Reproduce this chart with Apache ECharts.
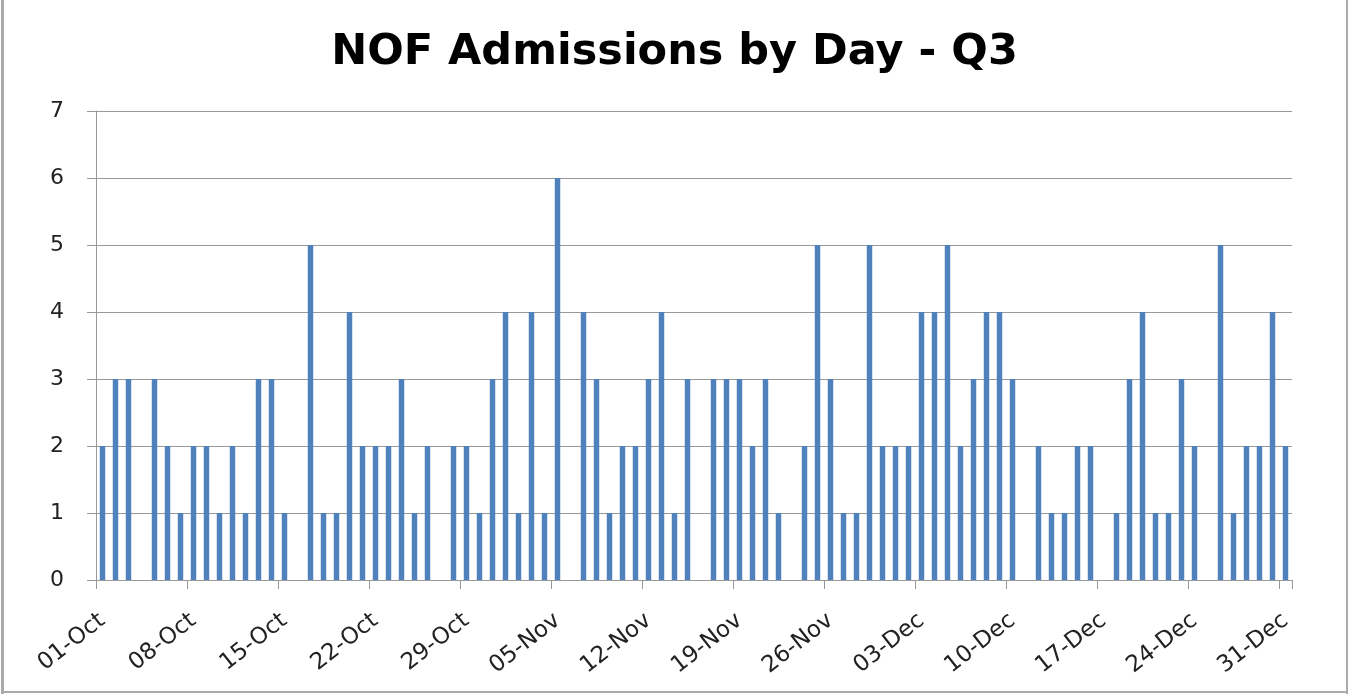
<!DOCTYPE html>
<html>
<head>
<meta charset="utf-8">
<title>NOF Admissions by Day - Q3</title>
<script src="https://cdn.jsdelivr.net/npm/echarts@6/dist/echarts.min.js"></script>
<style>
  html, body { margin: 0; padding: 0; background: #fff; }
  #chart { width: 1349px; height: 694px; }
</style>
</head>
<body>
<div id="chart"></div>
<script>
// dates 01-Oct .. 31-Dec
var months = ['Oct', 'Nov', 'Dec'];
var monthDays = [31, 30, 31];
var days = [];
for (var m = 0; m < months.length; m++) {
    for (var d = 1; d <= monthDays[m]; d++) {
        days.push((d < 10 ? '0' + d : '' + d) + '-' + months[m]);
    }
}

// admissions per day
var octAdmissions = [2, 3, 3, 0, 3, 2, 1, 2, 2, 1, 2, 1, 3, 3, 1, 0, 5, 1, 1, 4, 2, 2, 2, 3, 1, 2, 0, 2, 2, 1, 3];
var novAdmissions = [4, 1, 4, 1, 6, 0, 4, 3, 1, 2, 2, 3, 4, 1, 3, 0, 3, 3, 3, 2, 3, 1, 0, 2, 5, 3, 1, 1, 5, 2];
var decAdmissions = [2, 2, 4, 4, 5, 2, 3, 4, 4, 3, 0, 2, 1, 1, 2, 2, 0, 1, 3, 4, 1, 1, 3, 2, 0, 5, 1, 2, 2, 4, 2];
var admissions = octAdmissions.concat(novAdmissions, decAdmissions);

var yTicks = [0, 1, 2, 3, 4, 5, 6, 7];

var chart = echarts.init(document.getElementById('chart'));

var option = {
    animation: false,
    backgroundColor: '#fff',
    title: {
        text: 'NOF Admissions by Day - Q3',
        left: 'center',
        top: 26,
        textStyle: {
            fontFamily: 'DejaVu Sans',
            fontWeight: 'bold',
            fontSize: 43,
            color: '#000'
        }
    },
    grid: {
        left: 96,
        right: 57,
        top: 111,
        bottom: 114
    },
    xAxis: {
        type: 'category',
        data: days,
        boundaryGap: true,
        axisLine: { lineStyle: { color: '#999', width: 1 } },
        axisTick: {
            show: true,
            interval: 6,
            length: 9,
            lineStyle: { color: '#999' }
        },
        axisLabel: {
            interval: 6,
            rotate: 38,
            margin: 38,
            fontFamily: 'DejaVu Sans',
            fontSize: 23,
            color: '#222'
        },
        splitLine: { show: false }
    },
    yAxis: {
        type: 'value',
        min: yTicks[0],
        max: yTicks[yTicks.length - 1],
        interval: 1,
        axisLine: { show: true, lineStyle: { color: '#999', width: 1 } },
        axisTick: { show: true, length: 9, lineStyle: { color: '#999' } },
        axisLabel: {
            margin: 32,
            fontFamily: 'DejaVu Sans',
            fontSize: 22,
            color: '#222'
        },
        splitLine: { lineStyle: { color: '#999', width: 1 } }
    },
    series: [{
        name: 'Admissions',
        type: 'bar',
        data: admissions,
        barWidth: '42%',
        itemStyle: { color: '#4F81BD' }
    }],
    // outer frame (left, right, bottom)
    graphic: [
        { type: 'rect', shape: { x: 1, y: 0, width: 3, height: 694 }, style: { fill: '#aaa' } },
        { type: 'rect', shape: { x: 1346, y: 0, width: 2, height: 694 }, style: { fill: '#aaa' } },
        { type: 'rect', shape: { x: 1, y: 691, width: 1347, height: 2 }, style: { fill: '#aaa' } }
    ]
};

chart.setOption(option);
</script>
</body>
</html>
